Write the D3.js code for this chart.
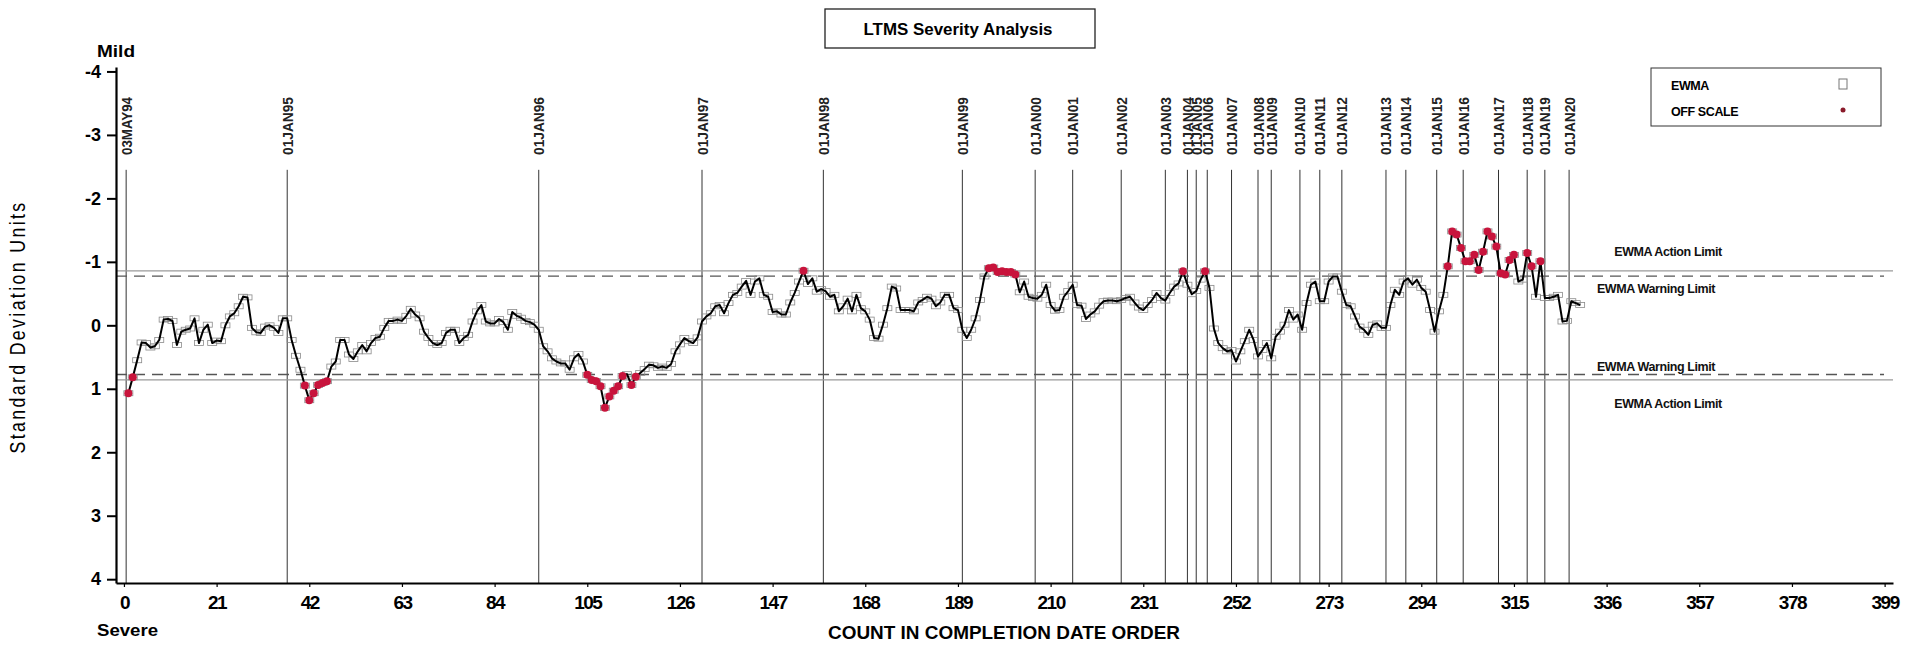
<!DOCTYPE html>
<html>
<head>
<meta charset="utf-8">
<script src="https://cdn.jsdelivr.net/npm/d3@7"></script>
<style>
  html, body { margin: 0; padding: 0; background: #fff; }
  svg { display: block; }
  text { font-family: "Liberation Sans", Arial, sans-serif; }
</style>
</head>
<body>
<svg id="chart" width="1909" height="645"></svg>
<script>
// ---------------- DATA ----------------
const ewma = [
  1.07, 0.82, 0.55, 0.27, 0.28, 0.35, 0.33, 0.23, -0.09, -0.10,
  -0.07, 0.31, 0.10, 0.07, 0.05, -0.11, 0.28, 0.07, -0.01, 0.28,
  0.24, 0.25, 0.00, -0.14, -0.19, -0.30, -0.45, -0.44, 0.04, 0.11,
  0.12, 0.02, 0.00, 0.04, 0.12, -0.11, -0.11, 0.23, 0.48, 0.70,
  0.95, 1.18, 1.07, 0.94, 0.91, 0.88, 0.65, 0.57, 0.23, 0.23,
  0.46, 0.53, 0.41, 0.31, 0.41, 0.28, 0.20, 0.18, 0.04, -0.07,
  -0.07, -0.09, -0.07, -0.15, -0.26, -0.17, -0.11, 0.10, 0.20, 0.28,
  0.31, 0.28, 0.12, 0.07, 0.07, 0.28, 0.20, 0.15, -0.06, -0.22,
  -0.32, -0.06, -0.03, -0.03, -0.10, -0.05, 0.07, -0.21, -0.15, -0.12,
  -0.07, -0.05, -0.01, 0.07, 0.33, 0.41, 0.52, 0.57, 0.60, 0.60,
  0.70, 0.52, 0.45, 0.57, 0.78, 0.86, 0.88, 0.96, 1.30, 1.12,
  1.03, 0.96, 0.80, 0.77, 0.94, 0.81, 0.75, 0.69, 0.62, 0.63,
  0.67, 0.65, 0.67, 0.61, 0.41, 0.30, 0.20, 0.25, 0.28, 0.19,
  -0.06, -0.14, -0.19, -0.30, -0.32, -0.19, -0.35, -0.48, -0.51, -0.61,
  -0.70, -0.48, -0.69, -0.74, -0.48, -0.45, -0.21, -0.22, -0.17, -0.17,
  -0.36, -0.51, -0.69, -0.86, -0.65, -0.74, -0.53, -0.57, -0.54, -0.45,
  -0.48, -0.22, -0.30, -0.42, -0.22, -0.48, -0.27, -0.22, -0.09, 0.20,
  0.21, -0.01, -0.27, -0.61, -0.58, -0.24, -0.24, -0.24, -0.22, -0.36,
  -0.40, -0.45, -0.42, -0.30, -0.36, -0.48, -0.48, -0.27, -0.24, 0.07,
  0.20, 0.07, -0.11, -0.40, -0.77, -0.90, -0.91, -0.84, -0.85, -0.84,
  -0.84, -0.80, -0.52, -0.69, -0.45, -0.43, -0.42, -0.48, -0.64, -0.32,
  -0.23, -0.24, -0.45, -0.54, -0.64, -0.32, -0.31, -0.10, -0.17, -0.22,
  -0.31, -0.38, -0.39, -0.39, -0.38, -0.40, -0.43, -0.45, -0.36, -0.28,
  -0.24, -0.32, -0.40, -0.51, -0.43, -0.39, -0.51, -0.61, -0.66, -0.85,
  -0.64, -0.49, -0.54, -0.72, -0.85, -0.59, 0.05, 0.28, 0.36, 0.41,
  0.39, 0.57, 0.41, 0.25, 0.07, 0.23, 0.49, 0.39, 0.28, 0.52,
  0.18, 0.10, -0.01, -0.24, -0.09, -0.17, 0.07, -0.35, -0.64, -0.69,
  -0.38, -0.38, -0.69, -0.77, -0.77, -0.53, -0.32, -0.30, -0.14, 0.02,
  0.07, 0.15, -0.01, -0.03, 0.04, 0.04, -0.32, -0.56, -0.48, -0.69,
  -0.74, -0.64, -0.72, -0.59, -0.53, -0.24, 0.10, -0.22, -0.48, -0.93,
  -1.48, -1.43, -1.22, -1.01, -1.01, -1.11, -0.87, -1.16, -1.48, -1.40,
  -1.24, -0.82, -0.80, -1.03, -1.11, -0.69, -0.72, -1.14, -0.93, -0.45,
  -1.01, -0.43, -0.43, -0.45, -0.48, -0.06, -0.07, -0.38, -0.35, -0.32
];
const firstCount = 1;

const refCounts = [0.5, 37, 94, 131, 158.5, 190, 206.5, 215, 226, 236, 241, 243, 245.5,
  251, 257, 260, 266.5, 271, 276, 286, 290.5, 297.5, 303.5, 311.5, 318, 322, 327.5];
const refLabels = ["03MAY94", "01JAN95", "01JAN96", "01JAN97", "01JAN98", "01JAN99",
  "01JAN00", "01JAN01", "01JAN02", "01JAN03", "01JAN04", "01JAN05", "01JAN06",
  "01JAN07", "01JAN08", "01JAN09", "01JAN10", "01JAN11", "01JAN12", "01JAN13",
  "01JAN14", "01JAN15", "01JAN16", "01JAN17", "01JAN18", "01JAN19", "01JAN20"];

const xTicks = [0, 21, 42, 63, 84, 105, 126, 147, 168, 189, 210, 231, 252, 273, 294, 315, 336, 357, 378, 399];
const xTickLabels = ["0", "21", "42", "63", "84", "105", "126", "147", "168", "189", "210",
  "231", "252", "273", "294", "315", "336", "357", "378", "399"];
const yTicks = [-4, -3, -2, -1, 0, 1, 2, 3, 4];
const yTickLabels = ["-4", "-3", "-2", "-1", "0", "1", "2", "3", "4"];

const warningLimits = [-0.775, 0.775];
const actionLimits = [-0.859, 0.859];
const limitLabels = [
  { text: "EWMA Action Limit", value: -1.15, cx: 1668 },
  { text: "EWMA Warning Limit", value: -0.57, cx: 1656 },
  { text: "EWMA Warning Limit", value: 0.66, cx: 1656 },
  { text: "EWMA Action Limit", value: 1.24, cx: 1668 }
];
const legendItems = ["EWMA", "OFF SCALE"];

// ---------------- CHART ----------------
const svg = d3.select("#chart");
svg.append("rect").attr("width", 1909).attr("height", 645).attr("fill", "#fff");

const x = d3.scaleLinear().domain([-1.8, 400.9]).range([116, 1893]);
const y = d3.scaleLinear().domain([-4.07, 4.06]).range([67, 583]);

const points = ewma.map((v, i) => ({ c: i + firstCount, v }));
const warn = warningLimits[1];

// reference (date) lines
const refG = svg.append("g");
refCounts.forEach((c, i) => {
  refG.append("line")
    .attr("x1", x(c)).attr("x2", x(c))
    .attr("y1", y(-2.45)).attr("y2", y.range()[1])
    .attr("stroke", "#333").attr("stroke-width", 1);
  refG.append("text")
    .attr("transform", `translate(${x(c) + 5.5},155) rotate(-90)`)
    .attr("text-anchor", "start")
    .attr("font-size", 14).attr("font-weight", "bold")
    .attr("textLength", 58).attr("lengthAdjust", "spacingAndGlyphs")
    .attr("fill", "#222")
    .text(refLabels[i]);
});

// limit lines
const limG = svg.append("g");
actionLimits.forEach(v => {
  limG.append("line").attr("x1", 116).attr("x2", 1893)
    .attr("y1", y(v)).attr("y2", y(v))
    .attr("stroke", "#9a9a9a").attr("stroke-width", 1.2);
});
warningLimits.forEach(v => {
  limG.append("line").attr("x1", 116).attr("x2", 1884)
    .attr("y1", y(v)).attr("y2", y(v))
    .attr("stroke", "#555").attr("stroke-width", 1.3)
    .attr("stroke-dasharray", "11,7");
});
limitLabels.forEach(l => {
  limG.append("text").attr("x", l.cx).attr("y", y(l.value))
    .attr("text-anchor", "middle").attr("dominant-baseline", "central")
    .attr("font-size", 12.5).attr("font-weight", "bold").attr("fill", "#111")
    .attr("letter-spacing", -0.4)
    .text(l.text);
});

// square markers
svg.append("g").selectAll("rect").data(points).join("rect")
  .attr("x", d => x(d.c) - 4.5).attr("y", d => y(d.v) - 2.5)
  .attr("width", 9).attr("height", 5)
  .attr("fill", "none").attr("stroke", "#8a8a8a").attr("stroke-width", 0.8);

// line
const line = d3.line().x(d => x(d.c)).y(d => y(d.v));
svg.append("path").datum(points)
  .attr("d", line).attr("fill", "none")
  .attr("stroke", "#000").attr("stroke-width", 2).attr("stroke-linejoin", "round");

// off-scale red dots
svg.append("g").selectAll("circle").data(points.filter(d => Math.abs(d.v) > warn)).join("circle")
  .attr("cx", d => x(d.c)).attr("cy", d => y(d.v)).attr("r", 4)
  .attr("fill", "#c8143c");

// axes
const xAxis = d3.axisBottom(x).tickValues(xTicks)
  .tickFormat((d, i) => xTickLabels[i]).tickSize(4).tickPadding(9).tickSizeOuter(0);
const gx = svg.append("g").attr("transform", `translate(0,${y.range()[1]})`).call(xAxis);
gx.select(".domain").attr("stroke", "#000").attr("stroke-width", 2);
gx.selectAll(".tick line").attr("stroke", "#000").attr("stroke-width", 1.2);
gx.selectAll(".tick text").attr("font-family", "Liberation Sans, Arial, sans-serif")
  .attr("font-size", 19).attr("font-weight", "bold").attr("letter-spacing", -1.5).attr("fill", "#000");

const yAxis = d3.axisLeft(y).tickValues(yTicks)
  .tickFormat((d, i) => yTickLabels[i]).tickSize(9).tickPadding(6).tickSizeOuter(0);
const gy = svg.append("g").attr("transform", `translate(${x.range()[0]},0)`).call(yAxis);
gy.select(".domain").attr("stroke", "#000").attr("stroke-width", 2.2);
gy.selectAll(".tick line").attr("stroke", "#000").attr("stroke-width", 2);
gy.selectAll(".tick text").attr("font-family", "Liberation Sans, Arial, sans-serif")
  .attr("font-size", 18).attr("font-weight", "bold").attr("fill", "#000");

// titles
svg.append("rect").attr("x", 825).attr("y", 9).attr("width", 270).attr("height", 39)
  .attr("fill", "#fff").attr("stroke", "#222").attr("stroke-width", 1.3);
svg.append("text").attr("x", 958).attr("y", 35).attr("text-anchor", "middle")
  .attr("font-size", 17).attr("font-weight", "bold")
  .attr("textLength", 189).attr("lengthAdjust", "spacingAndGlyphs")
  .text("LTMS Severity Analysis");

svg.append("text").attr("x", 97).attr("y", 57)
  .attr("font-size", 17).attr("font-weight", "bold")
  .attr("textLength", 38).attr("lengthAdjust", "spacingAndGlyphs").text("Mild");
svg.append("text").attr("x", 97).attr("y", 636)
  .attr("font-size", 16).attr("font-weight", "bold")
  .attr("textLength", 61).attr("lengthAdjust", "spacingAndGlyphs").text("Severe");

svg.append("text").attr("x", 1004).attr("y", 639).attr("text-anchor", "middle")
  .attr("font-size", 18).attr("font-weight", "bold")
  .attr("textLength", 352).attr("lengthAdjust", "spacingAndGlyphs")
  .text("COUNT IN COMPLETION DATE ORDER");

svg.append("text")
  .attr("transform", "translate(25,327) rotate(-90)")
  .attr("text-anchor", "middle")
  .attr("font-size", 22)
  .attr("textLength", 253).attr("lengthAdjust", "spacingAndGlyphs")
  .attr("letter-spacing", 3)
  .text("Standard Deviation Units");

// legend
const lg = svg.append("g");
lg.append("rect").attr("x", 1651).attr("y", 68).attr("width", 230).attr("height", 58)
  .attr("fill", "#fff").attr("stroke", "#333").attr("stroke-width", 1);
legendItems.forEach((t, i) => {
  lg.append("text").attr("x", 1671).attr("y", 90 + i * 26)
    .attr("font-size", 12.5).attr("font-weight", "bold").attr("letter-spacing", -0.4)
    .text(t);
});
lg.append("rect").attr("x", 1839).attr("y", 79).attr("width", 8).attr("height", 10)
  .attr("fill", "none").attr("stroke", "#777").attr("stroke-width", 1);
lg.append("circle").attr("cx", 1843).attr("cy", 110).attr("r", 2.5).attr("fill", "#8a1a2a");
</script>
</body>
</html>
